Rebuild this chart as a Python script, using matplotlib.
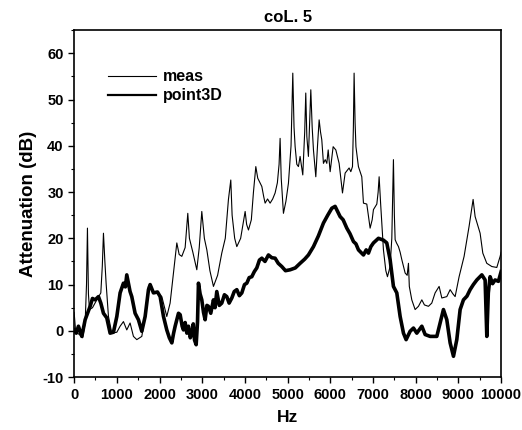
import matplotlib
matplotlib.use("Agg")
import matplotlib.pyplot as plt
from matplotlib.ticker import MultipleLocator

plt.rcParams['font.family'] = ['Liberation Sans', 'DejaVu Sans']
plt.rcParams['axes.unicode_minus'] = False

# measured attenuation (thin line)
meas_hz = [0, 30, 80, 150, 200, 258, 290, 312, 335, 359, 430, 531, 625, 660, 687, 720, 749, 804, 882,
           1000, 1077, 1155, 1233, 1311, 1389, 1468, 1585, 1663, 1741, 1790, 1858, 1937,
           2054, 2170, 2248, 2320, 2405, 2460, 2522, 2600, 2662, 2700, 2780, 2873, 2930, 2990,
           3050, 3108, 3180, 3263, 3360, 3458, 3540, 3614, 3669, 3700, 3760, 3810, 3900,
           4005, 4040, 4083, 4150, 4200, 4255, 4300, 4396, 4440, 4473, 4530, 4590, 4650, 4707,
           4760, 4800, 4824, 4850, 4902, 4960, 5019, 5080, 5121, 5150, 5176, 5215, 5253, 5292,
           5355, 5400, 5425, 5450, 5487, 5515, 5543, 5575, 5605, 5660, 5700, 5738, 5770, 5800,
           5839, 5880, 5918, 5950, 5996, 6066, 6129, 6206, 6285, 6347, 6440, 6480, 6519, 6540,
           6557, 6580, 6600, 6658, 6737, 6776, 6854, 6932, 6980, 7010, 7089, 7120, 7143, 7180,
           7244, 7300, 7338, 7400, 7440, 7478, 7500, 7518, 7550, 7596, 7635, 7674, 7752, 7800,
           7830, 7850, 7908, 7986, 8064, 8143, 8204, 8298, 8376, 8454, 8548, 8611, 8728, 8806,
           8870, 8923, 9016, 9133, 9250, 9344, 9391, 9508, 9571, 9664, 9782, 9899, 9977, 10000]
meas_db = [4.0, 0.5, -0.5, -1.0, -1.5, 1.7, 10, 22.2, 8, 4.6, 5.0, 6.7, 8.2, 14, 21.1, 15, 10.3, 3.1, -0.5,
           -0.3, 1.0, 2.0, 0.2, 1.7, -1.2, -1.9, -1.2, 3.1, 9.6, 10.0, 8.5, 8.2,
           7.4, 3.1, 6.0, 12, 19.0, 16.5, 16.1, 18, 25.4, 20, 17, 13.2, 18, 25.8,
           20, 17.5, 13, 9.6, 12, 16.8, 20, 28.4, 32.6, 25, 20, 18.2, 20,
           25.8, 23, 21.8, 24, 30, 35.5, 33, 31.2, 29, 27.6, 28.5, 27.6, 28.5, 29.8,
           32, 36, 41.6, 33, 25.4, 28, 31.9, 40, 55.7, 44, 39.8, 36, 35.5, 37.7,
           33.7, 43, 51.4, 42, 37.7, 45, 52.1, 44, 39.1, 33.3, 40, 45.6, 43, 41.3,
           36.2, 37, 36.2, 39.1, 34.4, 39.8, 39.1, 36.2, 29.8, 34.1, 35.2, 34.4, 35.5, 44,
           55.7, 45, 39.8, 35.5, 33.3, 27.6, 27.4, 22.2, 24, 26.2, 27.4, 30, 33.3, 27.2,
           17.5, 13, 11.7, 13.9, 20, 37.0, 25, 19.7, 19, 18.2, 17.0, 15.4, 12.5, 12,
           14.6, 9.6, 6.7, 4.6, 5.3, 6.7, 5.6, 5.3, 6.0, 8.2, 9.6, 7.1, 7.4, 8.9,
           8, 7.4, 11.7, 16.1, 22.6, 28.4, 24.7, 21.1, 16.8, 14.6, 13.9, 13.7, 16.1, 17]

# point3D model (thick line)
p3d_hz = [0, 50, 101, 180, 258, 375, 430, 492, 570, 625, 687, 765, 843, 921,
          1000, 1077, 1155, 1200, 1233, 1272, 1310, 1350, 1390, 1428, 1506, 1585, 1663, 1741, 1780, 1858, 1952,
          2015, 2093, 2170, 2230, 2288, 2330, 2366, 2444, 2483, 2530, 2561, 2600, 2640, 2678, 2720, 2756, 2790,
          2820, 2858, 2890, 2912, 2950, 2990, 3030, 3068, 3110, 3146, 3200, 3263, 3300, 3341, 3400, 3458,
          3520, 3575, 3630, 3693, 3750, 3810, 3870, 3927, 3990,
          4044, 4100, 4161, 4220, 4278, 4340, 4396, 4470, 4551, 4630, 4707, 4780, 4863, 4950, 5059, 5180, 5293,
          5400, 5487, 5605, 5720, 5839, 5940,
          6035, 6112, 6229, 6300, 6386, 6460, 6542, 6600, 6659, 6776, 6840, 6893, 6950, 7010, 7127, 7244, 7322, 7400,
          7478, 7557, 7635, 7713, 7775, 7869, 7947, 8025, 8143, 8221, 8337, 8494, 8571,
          8649, 8728, 8806, 8884, 8962, 9040, 9118, 9200, 9274, 9350, 9431, 9548, 9625, 9665, 9700,
          9742, 9800, 9859, 9937, 10000]
p3d_db = [0.2, -0.5, 1.0, -1.2, 2.4, 5.3, 7, 6.7, 7.4, 6.0, 3.8, 2.8, -0.5, -0.3,
          3.1, 8.2, 10.3, 9.5, 12.1, 10.3, 8.5, 7.4, 5.5, 3.8, 2.4, -0.1, 3.1, 8.9, 10.0, 8.2, 8.4,
          7.4, 3.1, 0.2, -1.5, -2.6, -0.5, 1.0, 3.8, 3.5, 1.0, 0.2, 1.8, -0.5, 1.0, -1.5, -0.5, 1.5,
          -2, -3.0, 2, 10.3, 8, 6.7, 4.0, 2.4, 5.5, 5.3, 3.8, 6.7, 5.0, 8.5, 5.5, 6.0,
          7.8, 7.4, 6.0, 7.1, 8.5, 8.9, 7.6, 8.2, 10.0,
          10.3, 11.5, 11.7, 12.8, 13.6, 15.3, 15.7, 15.0, 16.4, 15.8, 15.7, 14.6, 13.9, 13.0, 13.2, 13.6, 14.6,
          15.5, 16.4, 18.2, 20.5, 23.3, 25.0,
          26.5, 26.9, 24.7, 24.0, 22.2, 21.0, 19.3, 18.8, 17.5, 16.4, 17.5, 16.8, 18.2, 19.0, 20.0, 19.6, 19.0, 15.4,
          9.6, 8.2, 3.1, -0.5, -1.9, -0.1, 0.6, -0.5, 1.0, -0.8, -1.2, -1.2, 1.7,
          4.6, 2.4, -2.6, -5.5, -1.9, 4.6, 6.7, 7.5, 8.9, 10.0, 11.0, 12.1, 11.0, -1.2, 8.2,
          11.7, 10.2, 11.0, 10.7, 12.8]

fig = plt.figure(figsize=(5.22, 4.30), dpi=100)
ax = fig.add_axes([0.142, 0.123, 0.818, 0.807])

ax.plot(meas_hz, meas_db, color='black', lw=0.8, label='meas')
ax.plot(p3d_hz, p3d_db, color='black', lw=2.6, label='point3D')

ax.set_xlim(0, 10000)
ax.set_ylim(-10, 65)
ax.xaxis.set_major_locator(MultipleLocator(1000))
ax.xaxis.set_minor_locator(MultipleLocator(500))
ax.yaxis.set_major_locator(MultipleLocator(10))
ax.yaxis.set_minor_locator(MultipleLocator(5))
ax.tick_params(which='major', direction='out', length=4, width=1, labelsize=10.5)
ax.tick_params(which='minor', direction='out', length=2, width=0.8)
for lab in ax.get_xticklabels() + ax.get_yticklabels():
    lab.set_fontweight('bold')
for s in ax.spines.values():
    s.set_linewidth(1.2)

ax.set_xlabel('Hz', fontsize=12.5, fontweight='bold', labelpad=6)
ax.set_ylabel('Attenuation (dB)', fontsize=13.5, fontweight='bold', labelpad=4)
ax.set_title('coL. 5', fontsize=12, fontweight='bold', pad=6)

leg = ax.legend(loc='upper left', bbox_to_anchor=(0.065, 0.905), frameon=False,
                prop={'size': 11.5, 'weight': 'bold'}, handlelength=3.0,
                handletextpad=0.4, labelspacing=0.25, borderaxespad=0)
leg.get_lines()[1].set_linewidth(1.6)

plt.savefig("out.png", dpi=100)
